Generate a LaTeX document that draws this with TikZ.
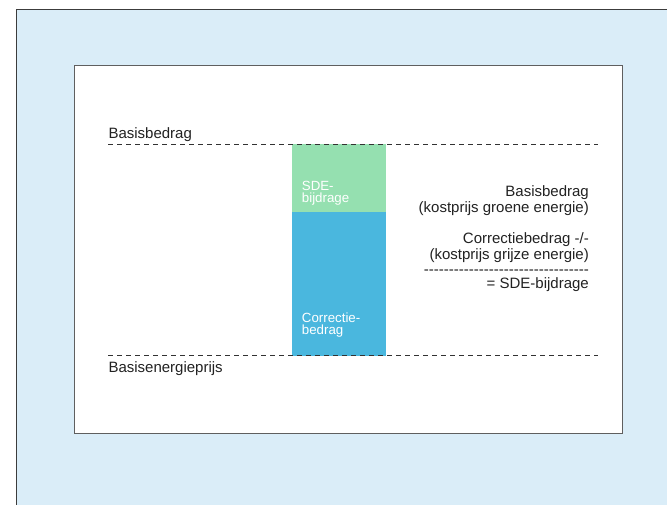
\documentclass[tikz,border=0pt]{standalone}
\usepackage{fontspec}
\setmainfont{Liberation Sans}
\newfontfamily\noligfont{Liberation Sans}[Ligatures=TeXOff]
\definecolor{bgblue}{RGB}{218,237,248}
\definecolor{framegray}{RGB}{60,60,60}
\definecolor{panelgray}{RGB}{95,95,95}
\definecolor{sdegreen}{RGB}{149,224,176}
\definecolor{corrblue}{RGB}{74,183,222}
\definecolor{txt}{RGB}{34,34,34}
\definecolor{dashgray}{RGB}{50,50,50}
\tikzset{
  lbl/.style={inner sep=0pt, text=txt, font=\fontsize{15}{16}\selectfont},
  barlbl/.style={inner sep=0pt, text=white, font=\fontsize{13.3}{12}\selectfont, anchor=base west},
  rlbl/.style={lbl, anchor=base east},
  levelline/.style={draw=dashgray, line width=1pt, dash pattern=on 5pt off 4pt}
}
\begin{document}
\begin{tikzpicture}[x=1pt,y=-1pt]
\useasboundingbox (0,0) rectangle (667,505);
\fill[white] (0,0) rectangle (667,505);
\draw[fill=bgblue, draw=framegray, line width=1pt] (16,9.5) rectangle (690,530);
\draw[fill=white, draw=panelgray, line width=1pt] (74.5,66) rectangle (622,433);
% bars
\fill[sdegreen] (292,144.5) rectangle (386,212.3);
\fill[corrblue] (292,212.3) rectangle (386,355.6);
% level lines
\coordinate (topL) at (108,144.5);
\coordinate (topR) at (598,144.5);
\coordinate (botL) at (108,355.6);
\coordinate (botR) at (598,355.6);
\draw[levelline] (topL) -- (topR);
\draw[levelline] (botL) -- (botR);
% left labels
\node[lbl, anchor=base west] (basis) at (108.3,138.3) {Basisbedrag};
\node[lbl, anchor=base west] (energie) at (108.3,372.3) {Basisenergieprijs};
% bar labels
\node[barlbl] (sde1) at (301.7,190.7) {SDE-};
\node[barlbl] (sde2) at (301.7,202.7) {bijdrage};
\node[barlbl] (cor1) at (301.7,322.7) {Correctie-};
\node[barlbl] (cor2) at (301.7,334.7) {bedrag};
% right explanation
\node[rlbl] (r1) at (589,197) {Basisbedrag};
\node[rlbl] (r2) at (589,213) {(kostprijs groene energie)};
\node[rlbl] (r3) at (589,244) {Correctiebedrag -/-};
\node[rlbl] (r4) at (589,259.5) {(kostprijs grijze energie)};
\node[rlbl] (r5) at (589,274.5) {\noligfont ---------------------------------};
\node[rlbl] (r6) at (589,288) {= SDE-bijdrage};
\end{tikzpicture}
\end{document}
